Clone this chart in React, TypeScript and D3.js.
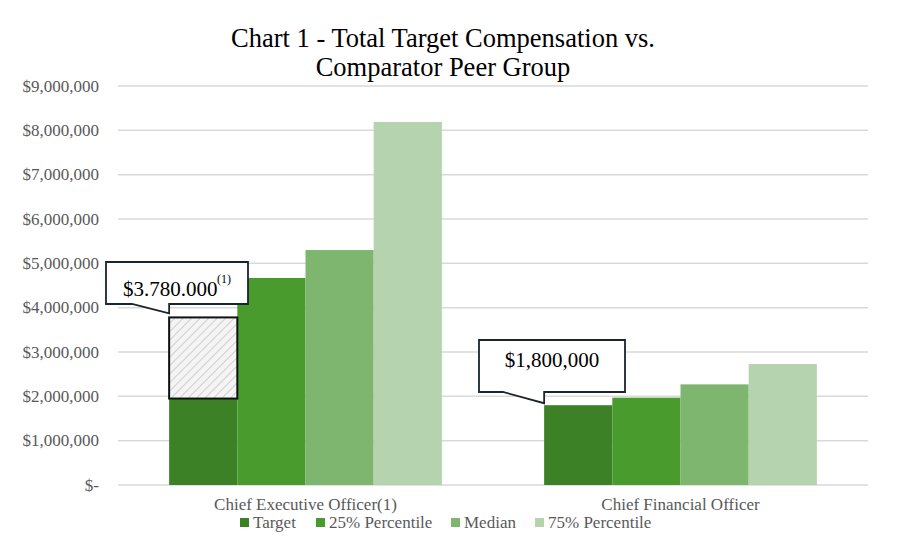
import React from "react"
import * as d3 from "d3"

const categories = ["Chief Executive Officer(1)", "Chief Financial Officer"]
const seriesNames = ["Target", "25% Percentile", "Median", "75% Percentile"]
const seriesColors = ["#3C8125", "#4A9B2E", "#7FB66F", "#B4D3AE"]
const target = [1950000, 1800000]
const pct25 = [4670000, 1970000]
const median = [5300000, 2270000]
const pct75 = [8190000, 2730000]
const ceoTargetFull = 3780000
const yTicks = d3.range(0, 9000001, 1000000)

const W = 900
const H = 554
const margin = { top: 86, right: 32, bottom: 69, left: 118 }
const serif = "Liberation Serif, DejaVu Serif, serif"

export default function App() {
  const values = [target, pct25, median, pct75]
  const x0 = d3
    .scaleBand()
    .domain(categories)
    .range([margin.left, W - margin.right])
  const x1 = d3
    .scaleBand()
    .domain(seriesNames)
    .range([0, x0.bandwidth()])
    .paddingOuter(0.75)
  const y = d3.scaleLinear().domain([0, 9000000]).range([H - margin.bottom, margin.top])
  const fmt = (v: number) => (v === 0 ? "$-" : "$" + d3.format(",")(v))

  const ceoX = (x0(categories[0]) || 0) + (x1(seriesNames[0]) || 0)
  const cfoX = (x0(categories[1]) || 0) + (x1(seriesNames[0]) || 0)
  const bw = x1.bandwidth()

  const legendX = [240, 316, 451, 535]

  return (
    <svg width={W} height={H} style={{ display: "block", margin: "-8px", fontFamily: serif }}>
      <defs>
        <pattern id="hatch" width="6" height="6" patternUnits="userSpaceOnUse" patternTransform="rotate(45)">
          <rect width="6" height="6" fill="#f4f4f4" />
          <line x1="0" y1="0" x2="0" y2="6" stroke="#a8a8a8" strokeWidth="1" />
        </pattern>
      </defs>
      <rect width={W} height={H} fill="#fff" />

      <text x={443} y={47} textAnchor="middle" fontSize={26.5} fill="#000">Chart 1 - Total Target Compensation vs.</text>
      <text x={443} y={76} textAnchor="middle" fontSize={26.5} fill="#000">Comparator Peer Group</text>

      {yTicks.map(t => (
        <g key={t}>
          <line x1={margin.left} x2={W - margin.right} y1={y(t)} y2={y(t)} stroke="#d9d9d9" strokeWidth={1.5} />
          <text x={99} y={y(t) + 5.5} textAnchor="end" fontSize={17} fill="#595959">{fmt(t)}</text>
        </g>
      ))}

      {categories.map((c, ci) => (
        <g key={c}>
          {seriesNames.map((s, si) => (
            <rect
              key={s}
              x={(x0(c) || 0) + (x1(s) || 0)}
              y={y(values[si][ci])}
              width={bw}
              height={y(0) - y(values[si][ci])}
              fill={seriesColors[si]}
            />
          ))}
          <text x={(x0(c) || 0) + x0.bandwidth() / 2} y={510} textAnchor="middle" fontSize={17} fill="#595959">{c}</text>
        </g>
      ))}

      <rect
        x={ceoX}
        y={y(ceoTargetFull)}
        width={bw}
        height={y(target[0]) - y(ceoTargetFull)}
        fill="url(#hatch)"
        stroke="#111"
        strokeWidth={2}
      />

      {/* callout CEO */}
      <path
        d={`M106,262 H248 V304 H${ceoX} V${y(ceoTargetFull) - 4} L132,304 H106 Z`}
        fill="#fff"
        stroke="#1a2530"
        strokeWidth={1.8}
      />
      <text x={123} y={296} fontSize={21} fill="#000">$3.780.000</text>
      <text x={217} y={283} fontSize={12} fill="#000">(1)</text>

      {/* callout CFO */}
      <path
        d={`M479,340 H625 V392 H${cfoX} V${y(target[1]) - 2} L503,392 H479 Z`}
        fill="#fff"
        stroke="#1a2530"
        strokeWidth={1.8}
      />
      <text x={552} y={367} textAnchor="middle" fontSize={21} fill="#000">$1,800,000</text>

      {seriesNames.map((s, i) => (
        <g key={s}>
          <rect x={legendX[i]} y={518} width={9} height={9} fill={seriesColors[i]} />
          <text x={legendX[i] + 13} y={528} fontSize={17} fill="#595959">{s}</text>
        </g>
      ))}
    </svg>
  )
}
